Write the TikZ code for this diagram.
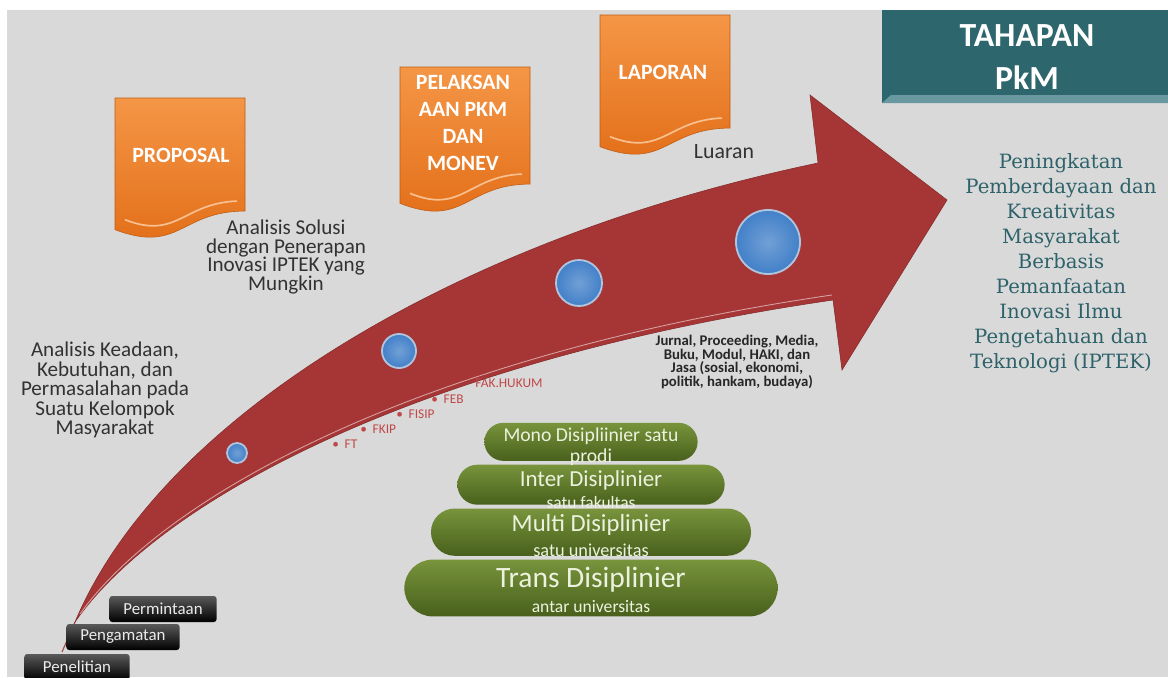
\documentclass[tikz,border=0pt]{standalone}
\usepackage{fontspec}
\setmainfont{Carlito}
\newfontfamily\tujuanfont{DejaVu Serif}
\usetikzlibrary{positioning,shapes.misc}

\definecolor{latar}{RGB}{217,217,217}
\definecolor{merah}{RGB}{166,54,54}
\definecolor{jingga}{RGB}{226,108,22}
\definecolor{jinggaterang}{RGB}{244,150,70}
\definecolor{tealkotak}{RGB}{46,102,110}
\definecolor{tealterang}{RGB}{104,152,160}
\definecolor{tealteks}{RGB}{45,98,106}
\definecolor{hijaugelap}{RGB}{72,96,28}
\definecolor{hijauterang}{RGB}{120,148,60}
\definecolor{hijaupucat}{RGB}{236,242,222}
\definecolor{biru}{RGB}{66,128,200}
\definecolor{birutepi}{RGB}{176,196,222}
\definecolor{fakmerah}{RGB}{192,72,72}
\definecolor{teksabu}{RGB}{50,50,50}

\begin{document}
\begin{tikzpicture}[x=0.025cm,y=-0.025cm,node distance=0.075cm,semithick]
  \tikzstyle{banner}=[top color=jinggaterang,bottom color=jingga,draw=jingga!85!black,thin]
  \tikzstyle{bannertext}=[text=white,align=center,font=\bfseries\fontsize{15.5}{19}\selectfont,inner sep=0pt]
  \tikzstyle{bead}=[circle,draw=birutepi,line width=1.3pt,inner color=biru!75!white,outer color=biru,inner sep=0pt]
  \tikzstyle{pill}=[rounded rectangle,top color=hijauterang,bottom color=hijaugelap,inner sep=0pt]
  \tikzstyle{pilltext}=[align=center,text=hijaupucat,inner sep=0pt]
  \tikzstyle{kotakhitam}=[rectangle,rounded corners=2pt,top color=black!65,bottom color=black,text=white!92!black,font=\fontsize{12}{12}\selectfont,inner sep=0pt,minimum height=0.65cm]
  \tikzstyle{fak}=[text=fakmerah,font=\fontsize{9.5}{10}\selectfont,anchor=west,inner sep=0pt]
  \tikzstyle{teks}=[align=center,text=teksabu,inner sep=0pt]

\useasboundingbox (0,0) rectangle (1168,677);
\fill[white] (0,0) rectangle (1168,677);
\fill[latar] (7,10) rectangle (1168,677);

% judul
\fill[tealkotak] (882,10) rectangle (1168,103);
\fill[tealterang] (882,103) -- (891,95) -- (1168,95) -- (1168,103) -- cycle;
\node[text=white,align=center,font=\bfseries\fontsize{24}{30}\selectfont] (judul) at (1027,57) {TAHAPAN\\PkM};

% panah
\draw[merah!70!gray,line width=0.8pt] (75,622) -- (62,652);
\fill[merah,draw=merah!80!black,thin] (75,622) .. controls (160,420) and (450,240) .. (818,163)
  -- (810,95) -- (947,200) -- (842,370) -- (833,300)
  .. controls (420,360) and (160,500) .. (75,622) -- cycle;
\draw[merah!45!white,line width=0.6pt] (80,614) .. controls (164,496) and (420,355) .. (832,295);

\foreach \x/\y/\r [count=\i] in {237/453/10, 399/351/17, 579/283/23, 768/242/32}
  \node[bead,minimum size=\r*0.05cm] (bead\i) at (\x,\y) {};

% dokumen
\foreach \x/\y/\h in {115/98/141, 400/67/146, 600/15/141}{
  \pgfmathsetmacro\ya{\y+0.802*\h}
  \pgfmathsetmacro\yb{\y+1.107*\h}
  \pgfmathsetmacro\yc{\y+0.934*\h}
  \draw[banner] (\x,\y) -- (\x+130,\y) -- (\x+130,\ya) .. controls (\x+65,\ya) and (\x+65,\yb) .. (\x,\yc) -- cycle;
  \draw[jinggaterang!60!white,line width=1.2pt] (\x+10,\yc-10) .. controls (\x+62,\yb-14) and (\x+68,\ya-8) .. (\x+122,\ya-10);
}
\node[bannertext] (proposal) at (181,155) {PROPOSAL};
\node[bannertext] (pelaksanaan) at (463,123) {PELAKSAN\\AAN PKM\\DAN\\MONEV};
\node[bannertext] (laporan) at (663,72) {LAPORAN};

\node[teks,font=\fontsize{15}{13.8}\selectfont] (keadaan) at (105,390) {Analisis Keadaan,\\Kebutuhan, dan\\Permasalahan pada\\Suatu Kelompok\\Masyarakat};
\node[teks,font=\fontsize{15}{13.4}\selectfont] (solusi) at (286,257) {Analisis Solusi\\dengan Penerapan\\Inovasi IPTEK yang\\Mungkin};
\node[teks,font=\fontsize{15.5}{15.5}\selectfont] (luaran) at (724,152) {Luaran};
\node[teks,text=black!85,font=\bfseries\fontsize{10.5}{9.6}\selectfont] (jurnal) at (737,362) {Jurnal, Proceeding, Media,\\Buku, Modul, HAKI, dan\\Jasa (sosial, ekonomi,\\politik, hankam, budaya)};
\node[teks,text=tealteks,font=\tujuanfont\fontsize{14}{17.8}\selectfont] (tujuan) at (1061,263) {Peningkatan\\Pemberdayaan dan\\Kreativitas\\Masyarakat\\Berbasis\\Pemanfaatan\\Inovasi Ilmu\\Pengetahuan dan\\Teknologi (IPTEK)};

% fakultas
\node[fak] (ft) at (332,444) {\textbullet\hspace{4pt}FT};
\node[fak] (fkip) at (360,429) {\textbullet\hspace{4pt}FKIP};
\node[fak] (fisip) at (396,414) {\textbullet\hspace{4pt}FISIP};
\node[fak] (feb) at (431,399) {\textbullet\hspace{4pt}FEB};
\node[fak,anchor=center] (hukum) at (509,383) {FAK.HUKUM};

% piramida disiplin
\node[pill,minimum width=9.33cm,minimum height=1.42cm] (trans) at (591,588) {};
\node[pill,minimum width=8cm,minimum height=1.18cm] (multi) [above=of trans] {};
\node[pill,minimum width=6.68cm,minimum height=1cm] (inter) [above=of multi] {};
\node[pill,minimum width=5.33cm,minimum height=0.95cm] (mono) [above=of inter] {};
\node[pilltext,font=\fontsize{21}{21}\selectfont] (transa) at (591,580) {Trans Disiplinier};
\node[pilltext,font=\fontsize{12.5}{12.5}\selectfont] (transb) at (591,607) {antar universitas};
\node[pilltext,font=\fontsize{17.5}{17.5}\selectfont] (multia) at (591,525) {Multi Disiplinier};
\node[pilltext,font=\fontsize{13}{13}\selectfont] (multib) at (591,550) {satu universitas};
\node[pilltext,font=\fontsize{16.3}{16.3}\selectfont] (intera) at (591,480) {Inter Disiplinier};
\node[pilltext,font=\fontsize{12.4}{12.4}\selectfont] (interb) at (591,503) {satu fakultas};
\node[pilltext,font=\fontsize{14}{15}\selectfont] (monoa) at (591,447) {Mono Disipliinier satu\\prodi};

% sumber
\node[kotakhitam,minimum width=2.63cm] (penelitian) at (77,667) {Penelitian};
\node[kotakhitam,minimum width=2.83cm] (pengamatan) at (123,637) {Pengamatan};
\node[kotakhitam,minimum width=2.68cm] (permintaan) at (163,609) {Permintaan};
\end{tikzpicture}
\end{document}
